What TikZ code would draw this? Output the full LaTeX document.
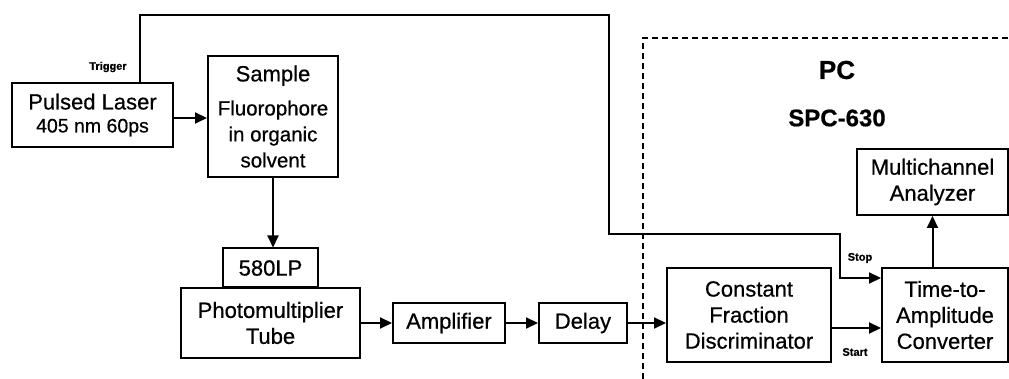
\documentclass[tikz,border=0pt]{standalone}
\usepackage{fontspec}
\setmainfont{Liberation Sans}[FakeBold=0.6]
\usetikzlibrary{arrows.meta}
\tikzset{
  blk/.style={draw, line width=2pt, inner sep=0pt, align=center, font=\fontsize{22}{26}\selectfont},
  arr/.style={line width=2pt, -{Triangle[length=12pt,width=11pt]}},
  small/.style={font=\bfseries\fontsize{11}{13}\selectfont},
  pcbox/.style={line width=1.5pt, dash pattern=on 6pt off 4pt},
}
\begin{document}
\begin{tikzpicture}[x=1pt,y=-1pt]
\useasboundingbox (0,0) rectangle (1009,379);
% nodes
\node[blk, minimum width=161pt, minimum height=64pt] (laser) at (92.5,115)
  {Pulsed Laser\\[-3pt]{\fontsize{19.5}{23}\selectfont 405 nm 60ps}};
\node[blk, minimum width=130pt, minimum height=121pt] (sample) at (273,116.5)
  {Sample\\[8pt]{\fontsize{20.5}{22.5}\selectfont Fluorophore}\\{\fontsize{20.5}{22.5}\selectfont in organic}\\{\fontsize{20.5}{22.5}\selectfont solvent}};
\node[blk, minimum width=95pt, minimum height=39pt] (filter) at (270.5,268) {580LP};
\node[blk, minimum width=179pt, minimum height=69pt] (pmt) at (270.5,323) {Photomultiplier\\Tube};
\node[blk, minimum width=112pt, minimum height=40pt] (amp) at (449,323) {Amplifier};
\node[blk, minimum width=88pt, minimum height=40pt] (delay) at (583,323) {Delay};
\node[blk, minimum width=164pt, minimum height=94pt] (cfd) at (749,315) {Constant\\Fraction\\Discriminator};
\node[blk, minimum width=126pt, minimum height=94pt] (tac) at (945,315) {Time-to-\\Amplitude\\Converter};
\node[blk, minimum width=151pt, minimum height=66pt] (mca) at (932.5,182) {Multichannel\\Analyzer};
% labels
\node[font=\bfseries\fontsize{26}{30}\selectfont] (pc) at (837,70) {PC};
\node[font=\bfseries\fontsize{24}{28}\selectfont] (spc) at (837,118) {SPC-630};
\node[small] (trig) at (108,67) {Trigger};
\node[small] (stop) at (860,258) {Stop};
\node[small] (start) at (855,352) {Start};
% PC region
\draw[pcbox] (643,379) -- (643,38) -- (1009,38);
% connectors
\coordinate (t1) at (140,15);
\coordinate (t2) at (609,15);
\coordinate (t3) at (609,234);
\coordinate (t4) at (840,234);
\coordinate (t5) at (840,278);
\draw[arr] (laser.north -| t1) -- (t1) -- (t2) -- (t3) -- (t4) -- (t5) -- (t5 -| tac.west);
\draw[arr] (laser.east |- 0,118) -- (sample.west |- 0,118);
\draw[arr] (sample.south) -- (sample.south |- filter.north);
\draw[arr] (pmt.east) -- (amp.west);
\draw[arr] (amp.east) -- (delay.west);
\draw[arr] (delay.east) -- (delay.east -| cfd.west);
\draw[arr] ([yshift=-13pt]cfd.east) -- ([yshift=-13pt]cfd.east -| tac.west);
\draw[arr] (mca.south |- tac.north) -- (mca.south);
\end{tikzpicture}
\end{document}
